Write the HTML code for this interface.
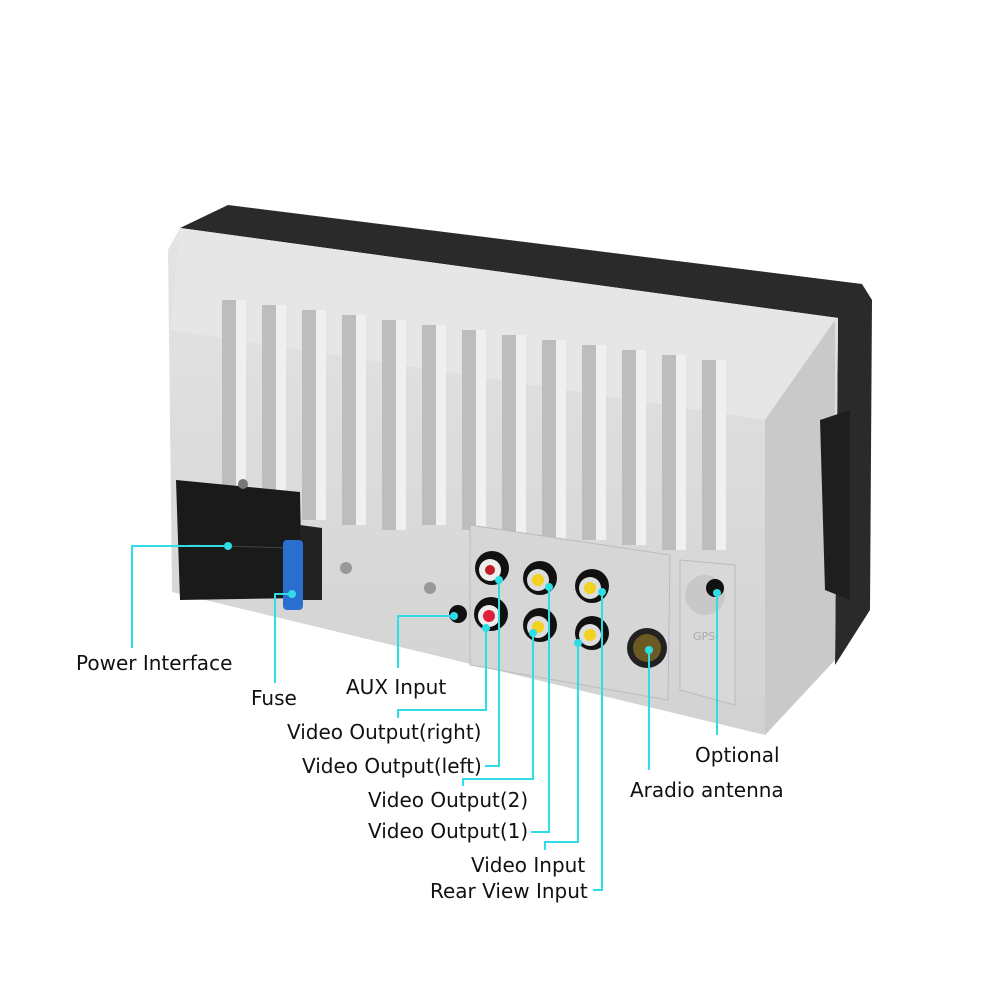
<!DOCTYPE html>
<html><head><meta charset="utf-8"><style>
html,body{margin:0;padding:0;background:#fff;width:1000px;height:1000px;overflow:hidden}
svg{position:absolute;left:0;top:0}
text{font-family:"DejaVu Sans","Liberation Sans",sans-serif;font-size:20px;fill:#111}
</style></head><body>
<svg width="1000" height="1000" viewBox="0 0 1000 1000" xmlns="http://www.w3.org/2000/svg">
<defs>
<linearGradient id="sil" x1="0" y1="0" x2="0" y2="1"><stop offset="0" stop-color="#e4e4e4"/><stop offset="1" stop-color="#d2d2d2"/></linearGradient>
</defs>
<!-- dark top band -->
<polygon points="228,205 862,284 872,300 870,610 835,665 838,318 180,228" fill="#2a2a2a"/>
<!-- main silver -->
<polygon points="168,250 180,228 838,318 835,660 765,735 172,592" fill="url(#sil)"/>
<!-- top chamfer face -->
<polygon points="180,228 838,318 765,420 170,330" fill="#e6e6e6"/>
<!-- right face -->
<polygon points="765,420 835,320 835,660 765,735" fill="#c9c9c9"/>
<!-- side bracket -->
<polygon points="820,420 850,410 850,600 825,590" fill="#1e1e1e"/>
<!-- fins -->
<g fill="#bdbdbd">
<rect x="222" y="300" width="14" height="210"/>
<rect x="262" y="305" width="14" height="210"/>
<rect x="302" y="310" width="14" height="210"/>
<rect x="342" y="315" width="14" height="210"/>
<rect x="382" y="320" width="14" height="210"/>
<rect x="422" y="325" width="14" height="200"/>
<rect x="462" y="330" width="14" height="200"/>
<rect x="502" y="335" width="14" height="200"/>
<rect x="542" y="340" width="14" height="200"/>
<rect x="582" y="345" width="14" height="195"/>
<rect x="622" y="350" width="14" height="195"/>
<rect x="662" y="355" width="14" height="195"/>
<rect x="702" y="360" width="14" height="190"/>
</g>
<g fill="#f0f0f0">
<rect x="236" y="300" width="10" height="210"/><rect x="276" y="305" width="10" height="210"/><rect x="316" y="310" width="10" height="210"/><rect x="356" y="315" width="10" height="210"/><rect x="396" y="320" width="10" height="210"/><rect x="436" y="325" width="10" height="200"/><rect x="476" y="330" width="10" height="200"/><rect x="516" y="335" width="10" height="200"/><rect x="556" y="340" width="10" height="200"/><rect x="596" y="345" width="10" height="195"/><rect x="636" y="350" width="10" height="195"/><rect x="676" y="355" width="10" height="195"/><rect x="716" y="360" width="10" height="190"/>
</g>
<!-- RCA panel -->
<polygon points="470,525 670,555 668,700 470,665" fill="#d6d6d6" stroke="#bbb"/>
<polygon points="680,560 735,565 735,705 680,690" fill="#d8d8d8" stroke="#bbb"/>
<circle cx="705" cy="595" r="20" fill="#c8c8c8"/><circle cx="715" cy="588" r="9" fill="#111"/>
<text x="693" y="640" style="font-size:11px;fill:#aaa">GPS</text>
<!-- power connector -->
<polygon points="176,480 300,492 302,598 180,600" fill="#1a1a1a"/>
<polygon points="300,525 322,528 322,600 302,600" fill="#222"/>
<line x1="190" y1="545" x2="290" y2="548" stroke="#444"/>
<rect x="283" y="540" width="20" height="70" rx="4" fill="#2a6fd0"/>
<circle cx="243" cy="484" r="5" fill="#777"/>
<!-- RCA jacks -->
<g>
<circle cx="492" cy="568" r="17" fill="#111"/><circle cx="490" cy="570" r="11" fill="#eee"/><circle cx="490" cy="570" r="5" fill="#c01d2a"/>
<circle cx="491" cy="614" r="17" fill="#111"/><circle cx="489" cy="616" r="11" fill="#eee"/><circle cx="489" cy="616" r="6" fill="#e0203a"/>
<circle cx="540" cy="578" r="17" fill="#111"/><circle cx="538" cy="580" r="11" fill="#ddd"/><circle cx="538" cy="580" r="6" fill="#f2d21e"/>
<circle cx="540" cy="625" r="17" fill="#111"/><circle cx="538" cy="627" r="11" fill="#ddd"/><circle cx="538" cy="627" r="6" fill="#f2d21e"/>
<circle cx="592" cy="586" r="17" fill="#111"/><circle cx="590" cy="588" r="11" fill="#ddd"/><circle cx="590" cy="588" r="6" fill="#f2d21e"/>
<circle cx="592" cy="633" r="17" fill="#111"/><circle cx="590" cy="635" r="11" fill="#ddd"/><circle cx="590" cy="635" r="6" fill="#f2d21e"/>
<circle cx="647" cy="648" r="20" fill="#222"/><circle cx="647" cy="648" r="14" fill="#6b5a24"/>
<circle cx="458" cy="614" r="9" fill="#111"/>
<circle cx="346" cy="568" r="6" fill="#999"/><circle cx="430" cy="588" r="6" fill="#999"/>
</g>
<!-- callout lines -->
<g stroke="#2fdde6" stroke-width="2" fill="none">
<polyline points="228,546 132,546 132,648"/>
<polyline points="292,594 275,594 275,683"/>
<polyline points="454,616 398,616 398,668"/>
<polyline points="486,628 486,710 398,710 398,718"/>
<polyline points="499,580 499,766 485,766"/>
<polyline points="533,633 533,779 463,779 463,786"/>
<polyline points="549,587 549,832 531,832"/>
<polyline points="578,643 578,842 545,842 545,850"/>
<polyline points="602,592 602,890 593,890"/>
<polyline points="649,650 649,770"/>
<polyline points="717,593 717,735"/>
</g>
<g fill="#2fdde6">
<circle cx="228" cy="546" r="4"/><circle cx="292" cy="594" r="4"/><circle cx="454" cy="616" r="4"/><circle cx="486" cy="628" r="4"/><circle cx="499" cy="580" r="4"/><circle cx="533" cy="633" r="4"/><circle cx="549" cy="587" r="4"/><circle cx="578" cy="643" r="4"/><circle cx="602" cy="592" r="4"/><circle cx="649" cy="650" r="4"/><circle cx="717" cy="593" r="4"/>
</g>
<text x="76" y="670">Power Interface</text>
<text x="251" y="705">Fuse</text>
<text x="346" y="694">AUX Input</text>
<text x="287" y="739">Video Output(right)</text>
<text x="302" y="773">Video Output(left)</text>
<text x="368" y="807">Video Output(2)</text>
<text x="368" y="838">Video Output(1)</text>
<text x="471" y="872">Video Input</text>
<text x="430" y="898">Rear View Input</text>
<text x="695" y="762">Optional</text>
<text x="630" y="797">Aradio antenna</text>
</svg>
</body></html>
